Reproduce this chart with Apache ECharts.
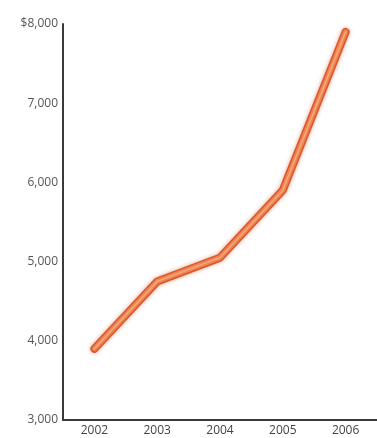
<!DOCTYPE html>
<html>
<head>
<meta charset="utf-8">
<script src="https://cdn.jsdelivr.net/npm/echarts@6/dist/echarts.min.js"></script>
<style>
  html, body { margin: 0; padding: 0; background: #fff; }
  #chart { width: 377px; height: 438px; }
</style>
</head>
<body>
<div id="chart"></div>
<script>
// Annual values, 2002–2006
var years = ['2002', '2003', '2004', '2005', '2006'];
var values = [3900, 4750, 5050, 5900, 7900];
var yTicks = [3000, 4000, 5000, 6000, 7000, 8000];

function fmtTick(v) {
  var s = v.toLocaleString('en-US');
  return v === yTicks[yTicks.length - 1] ? '$' + s : s;
}

var chart = echarts.init(document.getElementById('chart'));
var font = 'Open Sans, DejaVu Sans, sans-serif';

chart.setOption({
  animation: false,
  grid: { left: 63, top: 24, width: 320, bottom: 18 },
  xAxis: {
    type: 'category',
    data: years,
    boundaryGap: true,
    axisLine: { lineStyle: { color: '#3a3a3a', width: 2 } },
    axisTick: { show: false },
    axisLabel: { color: '#444', fontFamily: font, fontSize: 12, margin: 5 }
  },
  yAxis: {
    type: 'value',
    min: yTicks[0],
    max: yTicks[yTicks.length - 1],
    interval: 1000,
    axisLine: { show: true, lineStyle: { color: '#3a3a3a', width: 2 } },
    axisTick: { show: false },
    splitLine: { show: false },
    axisLabel: { color: '#555', fontFamily: font, fontSize: 12, margin: 5, formatter: fmtTick }
  },
  series: [
    {
      type: 'line',
      data: values,
      symbol: 'none',
      z: 2,
      lineStyle: {
        color: '#d9572a', width: 8, cap: 'round', join: 'round',
        shadowColor: 'rgba(190,60,20,0.45)', shadowBlur: 4
      }
    },
    {
      type: 'line',
      data: values,
      symbol: 'none',
      z: 3,
      lineStyle: { color: '#ee8450', width: 5, cap: 'round', join: 'round' }
    },
    {
      type: 'line',
      data: values,
      symbol: 'none',
      z: 4,
      lineStyle: { color: '#f6b189', width: 1.5, cap: 'round', join: 'round', opacity: 0.8 }
    }
  ]
});
</script>
</body>
</html>
